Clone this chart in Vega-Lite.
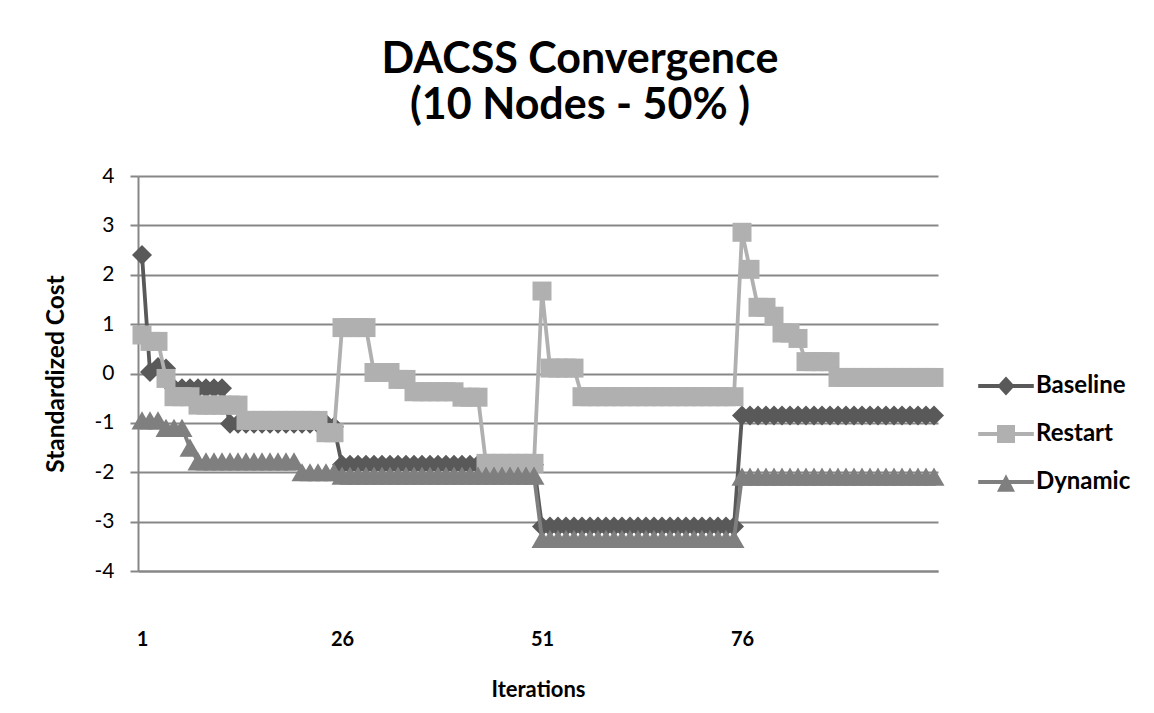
{
"$schema": "https://vega.github.io/schema/vega-lite/v6.json",
"width": 800, "height": 395,
"autosize": {"type": "none"},
"padding": {"left": 138, "top": 176, "right": 216, "bottom": 142},
"background": "white",
"config": {"view": {"stroke": null}, "font": "Lato"},
"title": {"text": ["DACSS Convergence", "(10 Nodes - 50% )"], "font": "Lato", "fontSize": 43, "fontWeight": "bold", "color": "black", "lineHeight": 46, "anchor": "middle", "dx": 42, "baseline": "bottom", "offset": -6},
"data": {"values": [
{"i":1,"s":"Baseline","v":2.4},{"i":2,"s":"Baseline","v":0.03},{"i":3,"s":"Baseline","v":0.13},{"i":4,"s":"Baseline","v":0.1},
{"i":5,"s":"Baseline","v":-0.3},{"i":6,"s":"Baseline","v":-0.3},{"i":7,"s":"Baseline","v":-0.3},{"i":8,"s":"Baseline","v":-0.3},{"i":9,"s":"Baseline","v":-0.3},{"i":10,"s":"Baseline","v":-0.3},{"i":11,"s":"Baseline","v":-0.3},
{"i":12,"s":"Baseline","v":-1.02},{"i":13,"s":"Baseline","v":-1.02},{"i":14,"s":"Baseline","v":-1.02},{"i":15,"s":"Baseline","v":-1.02},{"i":16,"s":"Baseline","v":-1.02},{"i":17,"s":"Baseline","v":-1.02},{"i":18,"s":"Baseline","v":-1.02},{"i":19,"s":"Baseline","v":-1.02},{"i":20,"s":"Baseline","v":-1.02},{"i":21,"s":"Baseline","v":-1.02},{"i":22,"s":"Baseline","v":-1.02},{"i":23,"s":"Baseline","v":-1.02},{"i":24,"s":"Baseline","v":-1.02},{"i":25,"s":"Baseline","v":-1.08},
{"i":26,"s":"Baseline","v":-1.85},{"i":27,"s":"Baseline","v":-1.85},{"i":28,"s":"Baseline","v":-1.85},{"i":29,"s":"Baseline","v":-1.85},{"i":30,"s":"Baseline","v":-1.85},{"i":31,"s":"Baseline","v":-1.85},{"i":32,"s":"Baseline","v":-1.85},{"i":33,"s":"Baseline","v":-1.85},{"i":34,"s":"Baseline","v":-1.85},{"i":35,"s":"Baseline","v":-1.85},{"i":36,"s":"Baseline","v":-1.85},{"i":37,"s":"Baseline","v":-1.85},{"i":38,"s":"Baseline","v":-1.85},{"i":39,"s":"Baseline","v":-1.85},{"i":40,"s":"Baseline","v":-1.85},{"i":41,"s":"Baseline","v":-1.85},{"i":42,"s":"Baseline","v":-1.85},{"i":43,"s":"Baseline","v":-1.85},{"i":44,"s":"Baseline","v":-1.85},{"i":45,"s":"Baseline","v":-1.85},{"i":46,"s":"Baseline","v":-1.85},{"i":47,"s":"Baseline","v":-1.85},{"i":48,"s":"Baseline","v":-1.85},{"i":49,"s":"Baseline","v":-1.85},{"i":50,"s":"Baseline","v":-1.85},
{"i":51,"s":"Baseline","v":-3.1},{"i":52,"s":"Baseline","v":-3.1},{"i":53,"s":"Baseline","v":-3.1},{"i":54,"s":"Baseline","v":-3.1},{"i":55,"s":"Baseline","v":-3.1},{"i":56,"s":"Baseline","v":-3.1},{"i":57,"s":"Baseline","v":-3.1},{"i":58,"s":"Baseline","v":-3.1},{"i":59,"s":"Baseline","v":-3.1},{"i":60,"s":"Baseline","v":-3.1},{"i":61,"s":"Baseline","v":-3.1},{"i":62,"s":"Baseline","v":-3.1},{"i":63,"s":"Baseline","v":-3.1},{"i":64,"s":"Baseline","v":-3.1},{"i":65,"s":"Baseline","v":-3.1},{"i":66,"s":"Baseline","v":-3.1},{"i":67,"s":"Baseline","v":-3.1},{"i":68,"s":"Baseline","v":-3.1},{"i":69,"s":"Baseline","v":-3.1},{"i":70,"s":"Baseline","v":-3.1},{"i":71,"s":"Baseline","v":-3.1},{"i":72,"s":"Baseline","v":-3.1},{"i":73,"s":"Baseline","v":-3.1},{"i":74,"s":"Baseline","v":-3.1},{"i":75,"s":"Baseline","v":-3.1},
{"i":76,"s":"Baseline","v":-0.85},{"i":77,"s":"Baseline","v":-0.85},{"i":78,"s":"Baseline","v":-0.85},{"i":79,"s":"Baseline","v":-0.85},{"i":80,"s":"Baseline","v":-0.85},{"i":81,"s":"Baseline","v":-0.85},{"i":82,"s":"Baseline","v":-0.85},{"i":83,"s":"Baseline","v":-0.85},{"i":84,"s":"Baseline","v":-0.85},{"i":85,"s":"Baseline","v":-0.85},{"i":86,"s":"Baseline","v":-0.85},{"i":87,"s":"Baseline","v":-0.85},{"i":88,"s":"Baseline","v":-0.85},{"i":89,"s":"Baseline","v":-0.85},{"i":90,"s":"Baseline","v":-0.85},{"i":91,"s":"Baseline","v":-0.85},{"i":92,"s":"Baseline","v":-0.85},{"i":93,"s":"Baseline","v":-0.85},{"i":94,"s":"Baseline","v":-0.85},{"i":95,"s":"Baseline","v":-0.85},{"i":96,"s":"Baseline","v":-0.85},{"i":97,"s":"Baseline","v":-0.85},{"i":98,"s":"Baseline","v":-0.85},{"i":99,"s":"Baseline","v":-0.85},{"i":100,"s":"Baseline","v":-0.85},
{"i":1,"s":"Restart","v":0.78},{"i":2,"s":"Restart","v":0.65},{"i":3,"s":"Restart","v":0.65},{"i":4,"s":"Restart","v":-0.1},
{"i":5,"s":"Restart","v":-0.47},{"i":6,"s":"Restart","v":-0.47},{"i":7,"s":"Restart","v":-0.47},
{"i":8,"s":"Restart","v":-0.64},{"i":9,"s":"Restart","v":-0.64},{"i":10,"s":"Restart","v":-0.64},{"i":11,"s":"Restart","v":-0.64},{"i":12,"s":"Restart","v":-0.64},{"i":13,"s":"Restart","v":-0.64},
{"i":14,"s":"Restart","v":-0.95},{"i":15,"s":"Restart","v":-0.95},{"i":16,"s":"Restart","v":-0.95},{"i":17,"s":"Restart","v":-0.95},{"i":18,"s":"Restart","v":-0.95},{"i":19,"s":"Restart","v":-0.95},{"i":20,"s":"Restart","v":-0.95},{"i":21,"s":"Restart","v":-0.95},{"i":22,"s":"Restart","v":-0.95},{"i":23,"s":"Restart","v":-0.95},
{"i":24,"s":"Restart","v":-1.2},{"i":25,"s":"Restart","v":-1.2},
{"i":26,"s":"Restart","v":0.93},{"i":27,"s":"Restart","v":0.93},{"i":28,"s":"Restart","v":0.93},{"i":29,"s":"Restart","v":0.93},
{"i":30,"s":"Restart","v":0.02},{"i":31,"s":"Restart","v":0.02},{"i":32,"s":"Restart","v":0.02},
{"i":33,"s":"Restart","v":-0.12},{"i":34,"s":"Restart","v":-0.12},
{"i":35,"s":"Restart","v":-0.37},{"i":36,"s":"Restart","v":-0.37},{"i":37,"s":"Restart","v":-0.37},{"i":38,"s":"Restart","v":-0.37},{"i":39,"s":"Restart","v":-0.37},{"i":40,"s":"Restart","v":-0.37},
{"i":41,"s":"Restart","v":-0.48},{"i":42,"s":"Restart","v":-0.48},{"i":43,"s":"Restart","v":-0.48},
{"i":44,"s":"Restart","v":-1.82},{"i":45,"s":"Restart","v":-1.82},{"i":46,"s":"Restart","v":-1.82},{"i":47,"s":"Restart","v":-1.82},{"i":48,"s":"Restart","v":-1.82},{"i":49,"s":"Restart","v":-1.82},{"i":50,"s":"Restart","v":-1.82},
{"i":51,"s":"Restart","v":1.67},
{"i":52,"s":"Restart","v":0.11},{"i":53,"s":"Restart","v":0.11},{"i":54,"s":"Restart","v":0.11},{"i":55,"s":"Restart","v":0.11},
{"i":56,"s":"Restart","v":-0.47},{"i":57,"s":"Restart","v":-0.47},{"i":58,"s":"Restart","v":-0.47},{"i":59,"s":"Restart","v":-0.47},{"i":60,"s":"Restart","v":-0.47},{"i":61,"s":"Restart","v":-0.47},{"i":62,"s":"Restart","v":-0.47},{"i":63,"s":"Restart","v":-0.47},{"i":64,"s":"Restart","v":-0.47},{"i":65,"s":"Restart","v":-0.47},{"i":66,"s":"Restart","v":-0.47},{"i":67,"s":"Restart","v":-0.47},{"i":68,"s":"Restart","v":-0.47},{"i":69,"s":"Restart","v":-0.47},{"i":70,"s":"Restart","v":-0.47},{"i":71,"s":"Restart","v":-0.47},{"i":72,"s":"Restart","v":-0.47},{"i":73,"s":"Restart","v":-0.47},{"i":74,"s":"Restart","v":-0.47},{"i":75,"s":"Restart","v":-0.47},
{"i":76,"s":"Restart","v":2.86},{"i":77,"s":"Restart","v":2.11},{"i":78,"s":"Restart","v":1.34},{"i":79,"s":"Restart","v":1.34},{"i":80,"s":"Restart","v":1.16},{"i":81,"s":"Restart","v":0.82},{"i":82,"s":"Restart","v":0.82},{"i":83,"s":"Restart","v":0.71},
{"i":84,"s":"Restart","v":0.24},{"i":85,"s":"Restart","v":0.24},{"i":86,"s":"Restart","v":0.24},{"i":87,"s":"Restart","v":0.24},
{"i":88,"s":"Restart","v":-0.08},{"i":89,"s":"Restart","v":-0.08},{"i":90,"s":"Restart","v":-0.08},{"i":91,"s":"Restart","v":-0.08},{"i":92,"s":"Restart","v":-0.08},{"i":93,"s":"Restart","v":-0.08},{"i":94,"s":"Restart","v":-0.08},{"i":95,"s":"Restart","v":-0.08},{"i":96,"s":"Restart","v":-0.08},{"i":97,"s":"Restart","v":-0.08},{"i":98,"s":"Restart","v":-0.08},{"i":99,"s":"Restart","v":-0.08},{"i":100,"s":"Restart","v":-0.08},
{"i":1,"s":"Dynamic","v":-0.95},{"i":2,"s":"Dynamic","v":-0.95},{"i":3,"s":"Dynamic","v":-0.95},
{"i":4,"s":"Dynamic","v":-1.1},{"i":5,"s":"Dynamic","v":-1.1},{"i":6,"s":"Dynamic","v":-1.1},
{"i":7,"s":"Dynamic","v":-1.5},
{"i":8,"s":"Dynamic","v":-1.78},{"i":9,"s":"Dynamic","v":-1.78},{"i":10,"s":"Dynamic","v":-1.78},{"i":11,"s":"Dynamic","v":-1.78},{"i":12,"s":"Dynamic","v":-1.78},{"i":13,"s":"Dynamic","v":-1.78},{"i":14,"s":"Dynamic","v":-1.78},{"i":15,"s":"Dynamic","v":-1.78},{"i":16,"s":"Dynamic","v":-1.78},{"i":17,"s":"Dynamic","v":-1.78},{"i":18,"s":"Dynamic","v":-1.78},{"i":19,"s":"Dynamic","v":-1.78},{"i":20,"s":"Dynamic","v":-1.78},
{"i":21,"s":"Dynamic","v":-2.0},{"i":22,"s":"Dynamic","v":-2.0},{"i":23,"s":"Dynamic","v":-2.0},{"i":24,"s":"Dynamic","v":-2.0},{"i":25,"s":"Dynamic","v":-2.0},
{"i":26,"s":"Dynamic","v":-2.07},{"i":27,"s":"Dynamic","v":-2.07},{"i":28,"s":"Dynamic","v":-2.07},{"i":29,"s":"Dynamic","v":-2.07},{"i":30,"s":"Dynamic","v":-2.07},{"i":31,"s":"Dynamic","v":-2.07},{"i":32,"s":"Dynamic","v":-2.07},{"i":33,"s":"Dynamic","v":-2.07},{"i":34,"s":"Dynamic","v":-2.07},{"i":35,"s":"Dynamic","v":-2.07},{"i":36,"s":"Dynamic","v":-2.07},{"i":37,"s":"Dynamic","v":-2.07},{"i":38,"s":"Dynamic","v":-2.07},{"i":39,"s":"Dynamic","v":-2.07},{"i":40,"s":"Dynamic","v":-2.07},{"i":41,"s":"Dynamic","v":-2.07},{"i":42,"s":"Dynamic","v":-2.07},{"i":43,"s":"Dynamic","v":-2.07},{"i":44,"s":"Dynamic","v":-2.07},{"i":45,"s":"Dynamic","v":-2.07},{"i":46,"s":"Dynamic","v":-2.07},{"i":47,"s":"Dynamic","v":-2.07},{"i":48,"s":"Dynamic","v":-2.07},{"i":49,"s":"Dynamic","v":-2.07},{"i":50,"s":"Dynamic","v":-2.07},
{"i":51,"s":"Dynamic","v":-3.35},{"i":52,"s":"Dynamic","v":-3.35},{"i":53,"s":"Dynamic","v":-3.35},{"i":54,"s":"Dynamic","v":-3.35},{"i":55,"s":"Dynamic","v":-3.35},{"i":56,"s":"Dynamic","v":-3.35},{"i":57,"s":"Dynamic","v":-3.35},{"i":58,"s":"Dynamic","v":-3.35},{"i":59,"s":"Dynamic","v":-3.35},{"i":60,"s":"Dynamic","v":-3.35},{"i":61,"s":"Dynamic","v":-3.35},{"i":62,"s":"Dynamic","v":-3.35},{"i":63,"s":"Dynamic","v":-3.35},{"i":64,"s":"Dynamic","v":-3.35},{"i":65,"s":"Dynamic","v":-3.35},{"i":66,"s":"Dynamic","v":-3.35},{"i":67,"s":"Dynamic","v":-3.35},{"i":68,"s":"Dynamic","v":-3.35},{"i":69,"s":"Dynamic","v":-3.35},{"i":70,"s":"Dynamic","v":-3.35},{"i":71,"s":"Dynamic","v":-3.35},{"i":72,"s":"Dynamic","v":-3.35},{"i":73,"s":"Dynamic","v":-3.35},{"i":74,"s":"Dynamic","v":-3.35},{"i":75,"s":"Dynamic","v":-3.35},
{"i":76,"s":"Dynamic","v":-2.09},{"i":77,"s":"Dynamic","v":-2.09},{"i":78,"s":"Dynamic","v":-2.09},{"i":79,"s":"Dynamic","v":-2.09},{"i":80,"s":"Dynamic","v":-2.09},{"i":81,"s":"Dynamic","v":-2.09},{"i":82,"s":"Dynamic","v":-2.09},{"i":83,"s":"Dynamic","v":-2.09},{"i":84,"s":"Dynamic","v":-2.09},{"i":85,"s":"Dynamic","v":-2.09},{"i":86,"s":"Dynamic","v":-2.09},{"i":87,"s":"Dynamic","v":-2.09},{"i":88,"s":"Dynamic","v":-2.09},{"i":89,"s":"Dynamic","v":-2.09},{"i":90,"s":"Dynamic","v":-2.09},{"i":91,"s":"Dynamic","v":-2.09},{"i":92,"s":"Dynamic","v":-2.09},{"i":93,"s":"Dynamic","v":-2.09},{"i":94,"s":"Dynamic","v":-2.09},{"i":95,"s":"Dynamic","v":-2.09},{"i":96,"s":"Dynamic","v":-2.09},{"i":97,"s":"Dynamic","v":-2.09},{"i":98,"s":"Dynamic","v":-2.09},{"i":99,"s":"Dynamic","v":-2.09},{"i":100,"s":"Dynamic","v":-2.09}
]},
"encoding": {
  "x": {"field": "i", "type": "quantitative", "scale": {"domain": [0.5, 100.5], "nice": false, "zero": false},
        "axis": {"values": [1, 26, 51, 76], "grid": false, "ticks": false, "domain": true, "domainColor": "#878787", "domainWidth": 2,
                 "labelFont": "Lato", "labelFontSize": 20, "labelFontWeight": "bold", "labelColor": "black", "labelPadding": 58,
                 "title": "Iterations", "titleFont": "Lato", "titleFontSize": 22, "titleFontWeight": "bold", "titleColor": "black", "titlePadding": 30}},
  "y": {"field": "v", "type": "quantitative", "scale": {"domain": [-4, 4], "nice": false},
        "axis": {"values": [-4, -3, -2, -1, 0, 1, 2, 3, 4], "labelExpr": "'' + datum.value", "grid": true, "gridColor": "#878787", "gridWidth": 2,
                 "domain": true, "domainColor": "#878787", "domainWidth": 2, "ticks": true, "tickSize": 8, "tickColor": "#878787", "tickWidth": 2,
                 "labelFont": "Lato", "labelFontSize": 21, "labelColor": "black", "labelPadding": 16,
                 "title": "Standardized Cost", "titleFont": "Lato", "titleFontSize": 24.5, "titleFontWeight": "bold", "titleColor": "black", "titlePadding": 26}},
  "color": {"field": "s", "type": "nominal",
            "scale": {"domain": ["Baseline", "Restart", "Dynamic"], "range": ["#595959", "#b0b0b0", "#7f7f7f"]},
            "legend": {"title": null, "orient": "none", "legendX": 856, "legendY": 198, "symbolSize": 400,
                       "labelFont": "Lato", "labelFontSize": 24, "labelFontWeight": "bold", "labelColor": "black", "labelOffset": 18, "rowPadding": 24,
                       "symbolStrokeWidth": 0,
                       "encode": {"symbols": {"update": {
                         "shape": {"signal": "datum.value === 'Baseline' ? 'M-2.78,-0.2H-0.69L0,-0.95L0.69,-0.2H2.78V0.2H0.69L0,0.95L-0.69,0.2H-2.78Z' : datum.value === 'Restart' ? 'M-2.78,-0.2H-0.9V-0.9H0.9V-0.2H2.78V0.2H0.9V0.9H-0.9V0.2H-2.78Z' : 'M-2.78,-0.2H-0.295L0,-0.77L0.295,-0.2H2.78V0.2H0.502L0.9,0.97H-0.9L-0.502,0.2H-2.78Z'"},
                         "fill": {"signal": "scale('color', datum.value)"},
                         "fillOpacity": {"value": 1},
                         "opacity": {"value": 1},
                         "strokeWidth": {"value": 0}}}}}}
},
"layer": [
  {"transform": [{"filter": "datum.s === 'Baseline'"}], "mark": {"type": "line", "strokeWidth": 3.8}},
  {"transform": [{"filter": "datum.s === 'Baseline'"}], "mark": {"type": "point", "shape": "diamond", "filled": true, "size": 400, "opacity": 1}},
  {"transform": [{"filter": "datum.s === 'Restart'"}], "mark": {"type": "line", "strokeWidth": 3.8}},
  {"transform": [{"filter": "datum.s === 'Restart'"}], "mark": {"type": "point", "shape": "square", "filled": true, "size": 361, "opacity": 1}},
  {"transform": [{"filter": "datum.s === 'Dynamic'"}], "mark": {"type": "line", "strokeWidth": 3.8}},
  {"transform": [{"filter": "datum.s === 'Dynamic'"}], "mark": {"type": "point", "shape": "triangle-up", "filled": true, "size": 440, "opacity": 1}}
]
}
